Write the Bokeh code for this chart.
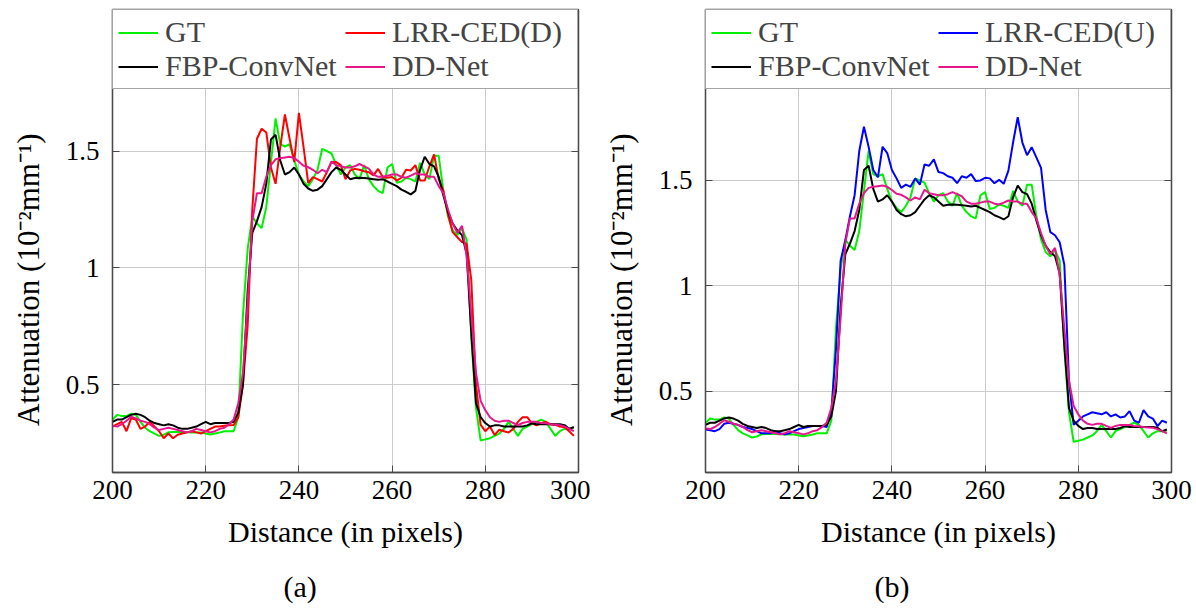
from bokeh.plotting import figure
from bokeh.layouts import row
from bokeh.models import (Range1d, FixedTicker, CustomJSTickFormatter, LinearAxis,
                          Legend, LegendItem, Title)
from bokeh.embed import file_html
from bokeh.resources import INLINE

distance = list(range(200, 300))

gt = [0.35, 0.37, 0.365, 0.365, 0.375, 0.37, 0.34, 0.315, 0.30, 0.29,
      0.28, 0.285, 0.295, 0.297, 0.297, 0.297, 0.295, 0.294, 0.294, 0.294,
      0.29, 0.286, 0.29, 0.294, 0.30, 0.30, 0.30, 0.36, 0.80, 1.08,
      1.22, 1.19, 1.17, 1.26, 1.45, 1.64, 1.53, 1.52, 1.53, 1.46,
      1.40, 1.37, 1.35, 1.38, 1.42, 1.51, 1.50, 1.49, 1.44, 1.40,
      1.43, 1.44, 1.40, 1.38, 1.44, 1.38, 1.35, 1.33, 1.32, 1.43,
      1.445, 1.365, 1.37, 1.386, 1.38, 1.37, 1.45, 1.40, 1.38, 1.48,
      1.48, 1.33, 1.22, 1.16, 1.14, 1.17, 1.12, 0.70, 0.40, 0.26,
      0.265, 0.27, 0.28, 0.29, 0.31, 0.34, 0.31, 0.28, 0.31, 0.32,
      0.33, 0.34, 0.35, 0.34, 0.31, 0.28, 0.30, 0.31, 0.31, 0.313]

fbp_convnet = [0.34, 0.35, 0.35, 0.36, 0.37, 0.375, 0.37, 0.36, 0.345, 0.335,
               0.33, 0.325, 0.33, 0.325, 0.315, 0.31, 0.31, 0.315, 0.32, 0.33,
               0.34, 0.33, 0.335, 0.335, 0.335, 0.335, 0.34, 0.38, 0.50, 0.90,
               1.15, 1.20, 1.26, 1.36, 1.55, 1.57, 1.46, 1.40, 1.41, 1.43,
               1.40, 1.36, 1.34, 1.33, 1.335, 1.35, 1.38, 1.41, 1.43, 1.42,
               1.40, 1.38, 1.385, 1.386, 1.385, 1.383, 1.38, 1.377, 1.38, 1.37,
               1.36, 1.35, 1.335, 1.326, 1.315, 1.33, 1.42, 1.476, 1.445, 1.435,
               1.39, 1.31, 1.24, 1.19, 1.16, 1.14, 1.06, 0.72, 0.42, 0.36,
               0.335, 0.32, 0.325, 0.325, 0.32, 0.32, 0.32, 0.32, 0.32, 0.325,
               0.334, 0.33, 0.33, 0.33, 0.33, 0.33, 0.33, 0.326, 0.31, 0.318]

dd_net = [0.323, 0.32, 0.33, 0.345, 0.362, 0.355, 0.345, 0.34, 0.33, 0.315,
          0.305, 0.31, 0.315, 0.31, 0.305, 0.30, 0.295, 0.30, 0.31, 0.305,
          0.30, 0.295, 0.30, 0.31, 0.315, 0.33, 0.35, 0.42, 0.55, 0.85,
          1.20, 1.32, 1.32, 1.39, 1.44, 1.465, 1.47, 1.473, 1.476, 1.47,
          1.455, 1.437, 1.432, 1.42, 1.405, 1.42, 1.41, 1.456, 1.44, 1.435,
          1.43, 1.43, 1.435, 1.445, 1.435, 1.425, 1.40, 1.39, 1.39, 1.395,
          1.40, 1.40, 1.39, 1.386, 1.395, 1.405, 1.40, 1.40, 1.39, 1.39,
          1.35, 1.32, 1.25, 1.19, 1.15, 1.18, 1.05, 0.80, 0.55, 0.43,
          0.39, 0.36, 0.345, 0.34, 0.345, 0.345, 0.335, 0.326, 0.335, 0.34,
          0.34, 0.34, 0.335, 0.334, 0.33, 0.328, 0.326, 0.32, 0.31, 0.30]

lrr_ced_d = [0.32, 0.33, 0.34, 0.30, 0.355, 0.35, 0.31, 0.32, 0.34, 0.32,
             0.30, 0.27, 0.29, 0.27, 0.285, 0.29, 0.295, 0.30, 0.295, 0.29,
             0.30, 0.31, 0.32, 0.32, 0.323, 0.325, 0.327, 0.36, 0.50, 0.75,
             1.25, 1.553, 1.596, 1.58, 1.43, 1.36, 1.517, 1.657, 1.553, 1.453,
             1.664, 1.517, 1.363, 1.389, 1.38, 1.37, 1.41, 1.453, 1.453, 1.44,
             1.38, 1.417, 1.424, 1.42, 1.414, 1.41, 1.396, 1.424, 1.389, 1.386,
             1.389, 1.374, 1.386, 1.42, 1.417, 1.44, 1.374, 1.374, 1.434, 1.486,
             1.38, 1.331, 1.23, 1.153, 1.131, 1.11, 1.103, 0.946, 0.50, 0.327,
             0.30, 0.32, 0.284, 0.306, 0.30, 0.294, 0.31, 0.34, 0.36, 0.36,
             0.334, 0.325, 0.335, 0.34, 0.33, 0.327, 0.32, 0.317, 0.30, 0.28]

lrr_ced_u = [0.318, 0.315, 0.31, 0.32, 0.345, 0.35, 0.345, 0.34, 0.33, 0.325,
             0.32, 0.31, 0.30, 0.30, 0.30, 0.31, 0.30, 0.295, 0.30, 0.31,
             0.32, 0.325, 0.33, 0.335, 0.335, 0.335, 0.33, 0.40, 0.70, 1.12,
             1.215, 1.33, 1.43, 1.64, 1.755, 1.66, 1.55, 1.515, 1.66, 1.63,
             1.55, 1.51, 1.465, 1.48, 1.47, 1.51, 1.48, 1.576, 1.57, 1.60,
             1.54, 1.535, 1.52, 1.513, 1.487, 1.52, 1.513, 1.53, 1.497, 1.50,
             1.513, 1.51, 1.487, 1.503, 1.484, 1.547, 1.68, 1.80, 1.68, 1.62,
             1.658, 1.61, 1.56, 1.36, 1.255, 1.24, 1.207, 1.10, 0.55, 0.34,
             0.36, 0.38, 0.39, 0.40, 0.395, 0.39, 0.40, 0.38, 0.39, 0.375,
             0.38, 0.405, 0.36, 0.35, 0.41, 0.38, 0.37, 0.334, 0.36, 0.35]

x_ticks = [200, 220, 240, 260, 280, 300]
y_ticks = [0.5, 1.0, 1.5]
x_label = "Distance (in pixels)"
y_label = "Attenuation (10\u207b\u00b2mm\u207b\u00b9)"

FONT = "Liberation Serif"
TICK_FS = "27px"
LABEL_FS = "30px"
YLABEL_FS = "31px"
FRAME_C = "#4a4a4a"
GRID_C = "#cccccc"
# trailing fixed-width spaces keep the rotated label centred on the plotting area
# (the frame also holds the legend box on top)
Y_PAD = "\u2003\u2003\u2002"

COLORS = {"GT": "#00f000", "FBP-ConvNet": "#000000", "DD-Net": "#e8168c",
          "LRR-CED(D)": "#ff0000", "LRR-CED(U)": "#0000ff"}


def make_panel(series, lrr_name, y_range, border_left, border_right, caption, cap_offset):
    p = figure(frame_width=466, frame_height=463,
               min_border_left=border_left, min_border_right=border_right,
               min_border_top=9, min_border_bottom=137,
               x_range=Range1d(200, 300), y_range=Range1d(*y_range),
               output_backend="svg", toolbar_location=None)
    p.outline_line_color = FRAME_C
    p.outline_line_width = 1.3
    p.background_fill_color = "white"
    p.border_fill_color = "white"

    renderers = {}
    for name, vals in series:
        renderers[name] = p.line(distance, vals, line_color=COLORS[name], line_width=2)

    fmt = CustomJSTickFormatter(code="return tick.toString();")
    blank = CustomJSTickFormatter(code="return '';")

    for ax in p.xaxis:
        ax.ticker = FixedTicker(ticks=x_ticks)
        ax.axis_label = x_label
        ax.major_label_standoff = 8
        ax.axis_label_standoff = 13
        ax.axis_label_text_font_size = LABEL_FS
    for ax in p.yaxis:
        ax.ticker = FixedTicker(ticks=y_ticks)
        ax.formatter = fmt
        ax.axis_label = y_label + Y_PAD
        ax.major_label_standoff = 13
        ax.axis_label_standoff = 17
        ax.axis_label_text_font_size = YLABEL_FS
    for ax in list(p.xaxis) + list(p.yaxis):
        ax.major_tick_in = 7
        ax.major_tick_out = 0
        ax.minor_tick_in = 0
        ax.minor_tick_out = 0
        ax.major_tick_line_color = FRAME_C
        ax.axis_line_color = FRAME_C
        ax.axis_line_width = 1.3
        ax.major_label_text_font = FONT
        ax.major_label_text_font_size = TICK_FS
        ax.major_label_text_color = "black"
        ax.axis_label_text_font = FONT
        ax.axis_label_text_font_style = "normal"
        ax.axis_label_text_color = "black"

    rax = LinearAxis(ticker=FixedTicker(ticks=y_ticks), formatter=blank,
                     major_tick_in=7, major_tick_out=0, minor_tick_in=0,
                     minor_tick_out=0, major_label_standoff=0,
                     major_tick_line_color=FRAME_C, axis_line_color=FRAME_C,
                     axis_line_width=1.3)
    p.add_layout(rax, "right")

    p.grid.grid_line_color = GRID_C
    p.grid.grid_line_width = 1
    p.xgrid.ticker = FixedTicker(ticks=x_ticks)
    p.ygrid.ticker = FixedTicker(ticks=y_ticks)

    order = ["GT", lrr_name, "FBP-ConvNet", "DD-Net"]
    legend = Legend(items=[LegendItem(label=n, renderers=[renderers[n]]) for n in order],
                    location="top_left", orientation="horizontal", ncols=2,
                    padding=5, spacing=0, margin=0,
                    glyph_width=40, glyph_height=33, label_height=33,
                    label_width=180, label_standoff=7,
                    label_text_font=FONT, label_text_font_size=LABEL_FS,
                    border_line_color=FRAME_C, border_line_width=1.3,
                    background_fill_color="white", background_fill_alpha=1.0)
    p.add_layout(legend, "center")

    p.add_layout(Title(text=caption, align="left", offset=cap_offset, standoff=34,
                       text_font=FONT, text_font_size=LABEL_FS, text_font_style="normal",
                       text_color="black"), "below")
    return p


p1 = make_panel([("GT", gt), ("LRR-CED(D)", lrr_ced_d), ("FBP-ConvNet", fbp_convnet),
                 ("DD-Net", dd_net)], "LRR-CED(D)", (0.123, 2.107), 112, 12, "(a)", 171)
p2 = make_panel([("GT", gt), ("LRR-CED(U)", lrr_ced_u), ("FBP-ConvNet", fbp_convnet),
                 ("DD-Net", dd_net)], "LRR-CED(U)", (0.114, 2.3115), 115, 25, "(b)", 169)

layout = row(p1, p2)
open("out.html", "w").write(file_html(layout, INLINE))
